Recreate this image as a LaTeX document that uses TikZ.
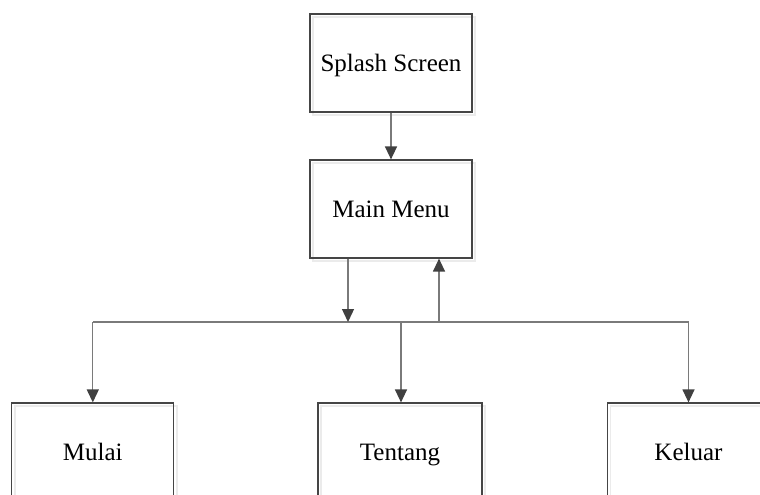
\documentclass[tikz,border=0pt]{standalone}
\usepackage{fontspec}
\setmainfont{Liberation Serif}
\usetikzlibrary{arrows.meta,shadows}

\definecolor{boxline}{HTML}{454545}
\definecolor{wire}{HTML}{7A7A7A}
\definecolor{tip}{HTML}{404040}

\tikzset{
  screen/.style={draw=boxline, line width=1.2pt, minimum width=162pt,
    minimum height=98pt, inner sep=0pt, text=black,
    font=\fontsize{25}{30}\selectfont,
    text height=21.5pt, text depth=5pt,
    general shadow={draw=black!8, line width=1.4pt, fill=none,
      shadow xshift=3pt, shadow yshift=-3pt}},
  wireline/.style={draw=wire, line width=1.3pt},
  flow/.style={wireline, -{Triangle[width=12pt,length=13pt,color=tip]}}
}

\begin{document}
\begin{tikzpicture}[x=1pt,y=-1pt]
  \useasboundingbox (0,0) rectangle (760,495);
  \clip (0,0) rectangle (760,495);

  % screens of the application
  \node[screen] (splash)  at (391,63)    {Splash Screen};
  \node[screen] (main)    at (391,209)   {Main Menu};
  \node[screen] (mulai)   at (92.8,452)  {Mulai};
  \node[screen, minimum width=164pt] (tentang) at (400,452) {Tentang};
  \node[screen] (keluar)  at (688.5,452) {Keluar};

  % points on the distribution bus
  \coordinate (busL) at (92.8,322);
  \coordinate (busR) at (688.5,322);
  \coordinate (down) at (348,322);
  \coordinate (up)   at (439,322);
  \coordinate (mid)  at (401,322);

  % connectors
  \draw[flow] (splash) -- (main);
  \draw[wireline] (busL) -- (busR);
  \draw[flow] (main.south -| down) -- (down);
  \draw[flow] (up) -- (main.south -| up);
  \draw[flow] (busL) -- (busL |- mulai.north);
  \draw[flow] (mid) -- (mid |- tentang.north);
  \draw[flow] (busR) -- (busR |- keluar.north);
\end{tikzpicture}
\end{document}
